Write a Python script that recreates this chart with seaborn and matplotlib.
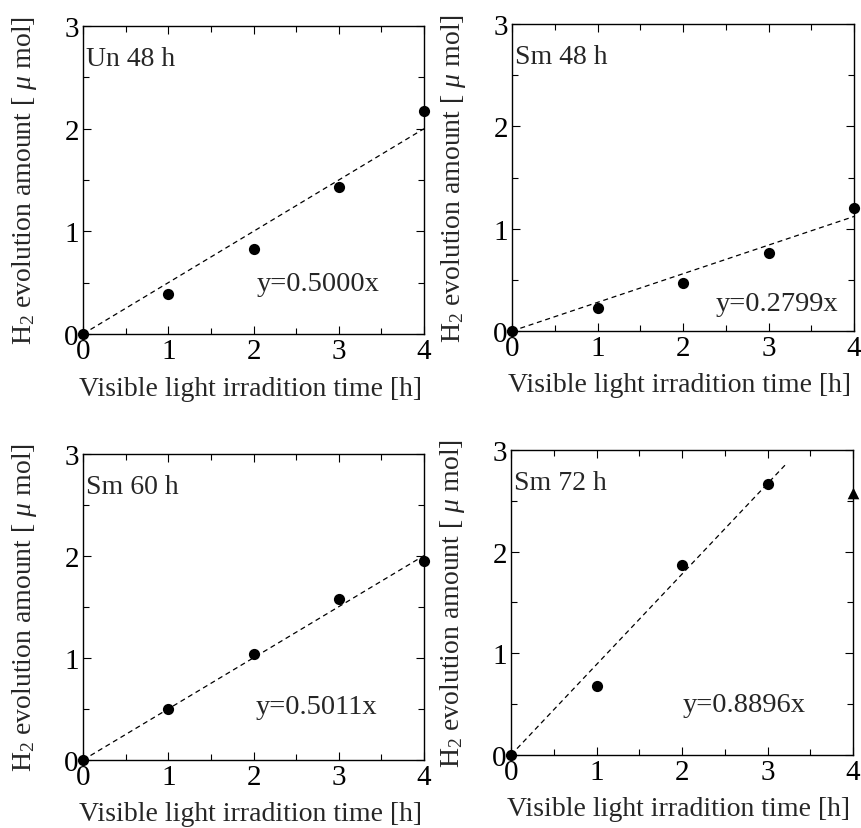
import matplotlib
matplotlib.use("Agg")
import matplotlib.pyplot as plt
import pandas as pd
import seaborn as sns
from matplotlib.ticker import MultipleLocator

# measured H2 evolution [umol] vs irradiation time [h]
time_h = [0, 1, 2, 3, 4]
un48 = [0.0, 0.39, 0.825, 1.43, 2.17]
sm48 = [0.0, 0.228, 0.469, 0.765, 1.198]
sm60 = [0.0, 0.503, 1.036, 1.578, 1.95]
sm72_time = [0, 1, 2, 3]
sm72 = [0.0, 0.677, 1.871, 2.663]
sm72_extra_time = [4]
sm72_extra = [2.574]

labels = ["Un 48 h", "Sm 48 h", "Sm 60 h", "Sm 72 h"]
slopes = [0.5000, 0.2799, 0.5011, 0.8896]
fit_end = [4, 4, 4, 3.21]
eq_pos = [(2.04, 0.49), (2.38, 0.27), (2.02, 0.52), (2.01, 0.50)]

sns.set_style("ticks")
plt.rcParams["font.family"] = ["Liberation Serif", "DejaVu Serif"]
plt.rcParams["mathtext.fontset"] = "custom"
plt.rcParams["mathtext.rm"] = "Liberation Serif"
plt.rcParams["mathtext.it"] = "Liberation Serif:italic"

fig = plt.figure(figsize=(8.62, 8.29), dpi=100)
boxes = [
    [0.0963, 0.5959, 0.3956, 0.3715],
    [0.5940, 0.5995, 0.3968, 0.3703],
    [0.0963, 0.0820, 0.3956, 0.3691],
    [0.5928, 0.0881, 0.3968, 0.3679],
]
series = [(time_h, un48), (time_h, sm48), (time_h, sm60), (sm72_time, sm72)]

for i, box in enumerate(boxes):
    ax = fig.add_axes(box)
    xs, ys = series[i]
    df = pd.DataFrame({"t": xs, "h2": ys})
    fit = pd.DataFrame({"t": [0, fit_end[i]], "h2": [0, slopes[i] * fit_end[i]]})
    sns.lineplot(data=fit, x="t", y="h2", ax=ax, color="black", lw=0.9,
                 linestyle=(0, (4, 3)))
    sns.scatterplot(data=df, x="t", y="h2", ax=ax, color="black", s=65,
                    edgecolor="black", linewidth=0, clip_on=False, zorder=5)
    if i == 3:
        ext = pd.DataFrame({"t": sm72_extra_time, "h2": sm72_extra})
        sns.scatterplot(data=ext, x="t", y="h2", ax=ax, color="black", s=70,
                        marker="^", linewidth=0, clip_on=False, zorder=5)

    ax.set_xlim(0, 4)
    ax.set_ylim(0, 3)
    ax.xaxis.set_major_locator(MultipleLocator(1))
    ax.xaxis.set_minor_locator(MultipleLocator(0.5))
    ax.yaxis.set_major_locator(MultipleLocator(1))
    ax.yaxis.set_minor_locator(MultipleLocator(0.5))
    ax.tick_params(which="both", direction="in", top=True, right=True,
                   colors="black", width=0.8)
    ax.tick_params(which="major", length=6, labelsize=21, pad=3)
    ax.tick_params(which="minor", length=4)
    for sp in ax.spines.values():
        sp.set_color("black")
        sp.set_linewidth(1.0)

    ax.set_xlabel("Visible light irradition time [h]", fontsize=20)
    ax.set_ylabel(r"H$_2$ evolution amount [ $\mu$ mol]", fontsize=20)
    ax.xaxis.set_label_coords(0.49, -0.135)
    ax.yaxis.set_label_coords(-0.13, 0.5)

    ax.text(0.03, 2.68, labels[i], fontsize=20, va="center", ha="left")
    ax.text(eq_pos[i][0], eq_pos[i][1], f"y={slopes[i]:.4f}x", fontsize=20.5,
            va="center", ha="left")

fig.savefig("out.png", dpi=100)
